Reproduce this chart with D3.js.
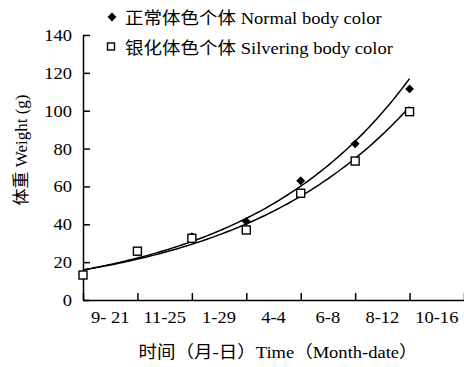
<!DOCTYPE html>
<html>
<head>
<meta charset="utf-8">
<script src="https://cdn.jsdelivr.net/npm/d3@7"></script>
<style>
  body { margin: 0; background: #fff; }
  text { font-family: "Liberation Serif", "Noto Sans CJK SC", serif; fill: #000; }
</style>
</head>
<body>
<div id="chart"></div>
<script>
// sampling dates (month-date)
var dates = ["9- 21", "11-25", "1-29", "4-4", "6-8", "8-12", "10-16"];
// body weight (g)
var normal = [13.5, 25.5, 33.5, 41.5, 63, 82.5, 111.5];
var silver = [13.2, 25.8, 32.6, 37, 56.4, 73.4, 99.5];
var yTicks = [0, 20, 40, 60, 80, 100, 120, 140];

var w = 464;
var h = 367;
var sx = 1.09; // the printed text is a bit wide

var svg = d3.select("#chart")
  .append("svg")
  .attr("width", w)
  .attr("height", h);

var xScale = d3.scaleLinear().domain([0, 7]).range([83, 464]);
var yScale = d3.scaleLinear().domain([0, 140]).range([300, 35]);

function wideText(x, y, s, anchor) {
  return svg.append("text")
    .attr("transform", "translate(" + x + "," + y + ") scale(" + sx + ",1)")
    .attr("text-anchor", anchor || "start")
    .attr("font-size", "17px")
    .text(s);
}

// exponential trendline, least squares on ln(y) like Excel does
function expFit(vals) {
  var xs = d3.range(vals.length);
  var ly = vals.map(function(v) { return Math.log(v); });
  var mx = d3.mean(xs), my = d3.mean(ly);
  var num = d3.sum(xs, function(x, i) { return (x - mx) * (ly[i] - my); });
  var den = d3.sum(xs, function(x) { return (x - mx) * (x - mx); });
  var b = num / den;
  var a = my - b * mx;
  return function(x) { return Math.exp(a + b * x); };
}

var trend = d3.line()
  .x(function(d) { return xScale(d[0]); })
  .y(function(d) { return yScale(d[1]); });

[normal, silver].forEach(function(vals) {
  var f = expFit(vals);
  var pts = d3.range(0, vals.length - 1 + 0.001, 0.05).map(function(x) { return [x, f(x)]; });
  svg.append("path")
    .datum(pts)
    .attr("d", trend)
    .attr("fill", "none")
    .attr("stroke", "#000")
    .attr("stroke-width", 1.5);
});

// axes
var xAxis = d3.axisBottom(xScale)
  .tickValues(d3.range(0, 8))
  .tickSizeInner(-7)
  .tickSizeOuter(0)
  .tickFormat("");

var yAxis = d3.axisLeft(yScale)
  .tickValues(yTicks)
  .tickSizeInner(-7)
  .tickSizeOuter(0)
  .tickPadding(11);

var gx = svg.append("g")
  .attr("transform", "translate(0," + yScale(0) + ")")
  .call(xAxis);

var gy = svg.append("g")
  .attr("transform", "translate(" + xScale(0) + ",0)")
  .call(yAxis);

[gx, gy].forEach(function(g) {
  g.selectAll("path, line").attr("stroke", "#000").attr("stroke-width", 1.5);
});
gy.selectAll("text")
  .attr("x", null)
  .attr("transform", "translate(-11,0) scale(" + sx + ",1)")
  .attr("font-family", "Liberation Serif")
  .attr("font-size", "17px")
  .attr("fill", "#000");

dates.forEach(function(d, i) {
  wideText(xScale(i + 0.5), 323, d, "middle");
});

// markers
var diamond = d3.symbol().type(d3.symbolDiamond2).size(50);

svg.append("g")
  .selectAll("path")
  .data(normal)
  .enter()
  .append("path")
  .attr("d", diamond)
  .attr("transform", function(d, i) { return "translate(" + xScale(i) + "," + yScale(d) + ")"; })
  .attr("fill", "#000");

svg.append("g")
  .selectAll("rect")
  .data(silver)
  .enter()
  .append("rect")
  .attr("x", function(d, i) { return xScale(i) - 4; })
  .attr("y", function(d) { return yScale(d) - 4; })
  .attr("width", 8)
  .attr("height", 8)
  .attr("fill", "#fff")
  .attr("stroke", "#000")
  .attr("stroke-width", 1.4);

// legend
svg.append("path")
  .attr("d", diamond)
  .attr("transform", "translate(112,17)")
  .attr("fill", "#000");
wideText(125, 24, "正常体色个体 Normal body color");

svg.append("rect")
  .attr("x", 107.5)
  .attr("y", 43)
  .attr("width", 7)
  .attr("height", 7)
  .attr("fill", "#fff")
  .attr("stroke", "#000")
  .attr("stroke-width", 1.4);
wideText(125, 54, "银化体色个体 Silvering body color");

// axis titles
svg.append("text")
  .attr("transform", "translate(27,150) rotate(-90)")
  .attr("text-anchor", "middle")
  .attr("font-size", "17px")
  .text("体重 Weight (g)");

wideText(278, 358, "时间（月-日）Time（Month-date）", "middle");
</script>
</body>
</html>
